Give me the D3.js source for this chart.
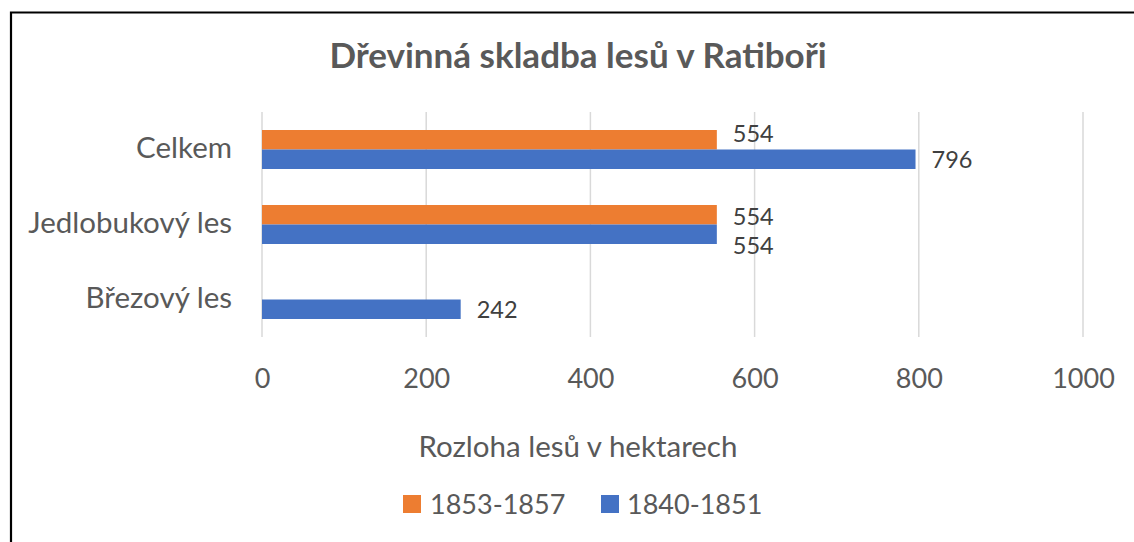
<!DOCTYPE html>
<html>
<head>
<meta charset="utf-8">
<script src="https://cdn.jsdelivr.net/npm/d3@7"></script>
<style>
  html, body { margin: 0; padding: 0; background: #fff; }
  svg { display: block; }
  text { font-family: Lato, "Noto Sans", sans-serif; }
</style>
</head>
<body>
<svg id="chart" width="1134" height="542"></svg>
<script>
// ---- data ----
const categories = ["Celkem", "Jedlobukový les", "Březový les"];
const seriesNames = ["1853-1857", "1840-1851"];
const values1853 = [554, 554, null];
const values1840 = [796, 554, 242];
const xTicks = [0, 200, 400, 600, 800, 1000];
const chartTitle = "Dřevinná skladba lesů v Ratiboři";
const axisTitle = "Rozloha lesů v hektarech";

const colors = { "1853-1857": "#ED7D31", "1840-1851": "#4472C4" };
const seriesValues = { "1853-1857": values1853, "1840-1851": values1840 };

const svg = d3.select("#chart");
const W = 1134, H = 542;

// frame (left + top border)
svg.append("path")
  .attr("d", `M11,${H} L11,12.5 L${W},12.5`)
  .attr("fill", "none").attr("stroke", "#000").attr("stroke-width", 2.2);

const plot = { left: 262, right: 1083, top: 112, bottom: 337 };

const x = d3.scaleLinear().domain([0, 1000]).range([plot.left, plot.right]);
const y = d3.scaleBand().domain(categories).range([plot.top, plot.bottom])
  .paddingInner(0.48).paddingOuter(0.24);
const ySub = d3.scaleBand().domain(seriesNames).range([0, y.bandwidth()]);

// title
svg.append("text")
  .attr("x", 578).attr("y", 68)
  .attr("text-anchor", "middle")
  .attr("font-size", 35).attr("font-weight", "bold")
  .attr("fill", "#595959")
  .text(chartTitle);

// gridlines
svg.append("g").selectAll("line").data(xTicks).join("line")
  .attr("x1", d => x(d)).attr("x2", d => x(d))
  .attr("y1", plot.top).attr("y2", plot.bottom)
  .attr("stroke", "#d9d9d9").attr("stroke-width", 1.5);

// x axis tick labels via d3 axis
const xAxis = d3.axisBottom(x).tickValues(xTicks).tickSize(0).tickPadding(0)
  .tickFormat(d3.format("d"));
const gx = svg.append("g").attr("transform", `translate(0, 388)`).call(xAxis);
gx.select(".domain").remove();
gx.selectAll("text")
  .attr("font-family", "Lato, 'Noto Sans', sans-serif")
  .attr("font-size", 27).attr("fill", "#595959").attr("dy", "0");

// y axis category labels
const yAxis = d3.axisLeft(y).tickSize(0).tickPadding(0);
const gy = svg.append("g").attr("transform", `translate(232, 0)`).call(yAxis);
gy.select(".domain").remove();
gy.selectAll("text")
  .attr("font-family", "Lato, 'Noto Sans', sans-serif")
  .attr("font-size", 29.5).attr("fill", "#595959").attr("dy", "0.3em");

// bars
const barData = [];
categories.forEach((c, i) => {
  seriesNames.forEach(s => {
    const v = seriesValues[s][i];
    if (v != null) barData.push({ cat: c, series: s, value: v });
  });
});

svg.append("g").selectAll("rect").data(barData).join("rect")
  .attr("x", x(0))
  .attr("y", d => y(d.cat) + ySub(d.series))
  .attr("width", d => x(d.value) - x(0))
  .attr("height", ySub.bandwidth())
  .attr("fill", d => colors[d.series]);

// value labels with simple collision avoidance
const labelH = 29;
const labels = barData.map(d => ({
  ...d,
  lx: x(d.value) + 16,
  ly: y(d.cat) + ySub(d.series) + ySub.bandwidth() / 2
}));
labels.forEach(l => {
  barData.forEach(b => {
    if (b === l) return;
    const by0 = y(b.cat) + ySub(b.series), by1 = by0 + ySub.bandwidth();
    const bx1 = x(b.value);
    if (bx1 > l.lx && l.ly + labelH / 2 > by0 && l.ly - labelH / 2 < by1) {
      if (l.ly < by0) l.ly = by0 - 2 - labelH / 2 + 0.5;
      else l.ly = by1 + 2 + labelH / 2;
    }
  });
});
for (let i = 0; i < labels.length; i++) {
  for (let j = i + 1; j < labels.length; j++) {
    const a = labels[i], b = labels[j];
    if (Math.abs(a.lx - b.lx) < 45 && Math.abs(a.ly - b.ly) < labelH) {
      a.ly += 2;
      b.ly = a.ly + labelH;
    }
  }
}
svg.append("g").selectAll("text").data(labels).join("text")
  .attr("x", d => d.lx)
  .attr("y", d => d.ly)
  .attr("dy", "0.36em")
  .attr("font-size", 23.5).attr("fill", "#404040")
  .text(d => d.value);

// axis title
svg.append("text")
  .attr("x", 578).attr("y", 457)
  .attr("text-anchor", "middle")
  .attr("font-size", 29.5).attr("fill", "#595959")
  .text(axisTitle);

// legend
const legendItems = [
  { name: "1853-1857", sx: 403, tx: 430 },
  { name: "1840-1851", sx: 601, tx: 627 }
];
const lg = svg.append("g");
lg.selectAll("rect").data(legendItems).join("rect")
  .attr("x", d => d.sx).attr("y", 495).attr("width", 18).attr("height", 18)
  .attr("fill", d => colors[d.name]);
lg.selectAll("text").data(legendItems).join("text")
  .attr("x", d => d.tx).attr("y", 504).attr("dy", "0.36em")
  .attr("font-size", 27).attr("fill", "#595959")
  .text(d => d.name);
</script>
</body>
</html>
